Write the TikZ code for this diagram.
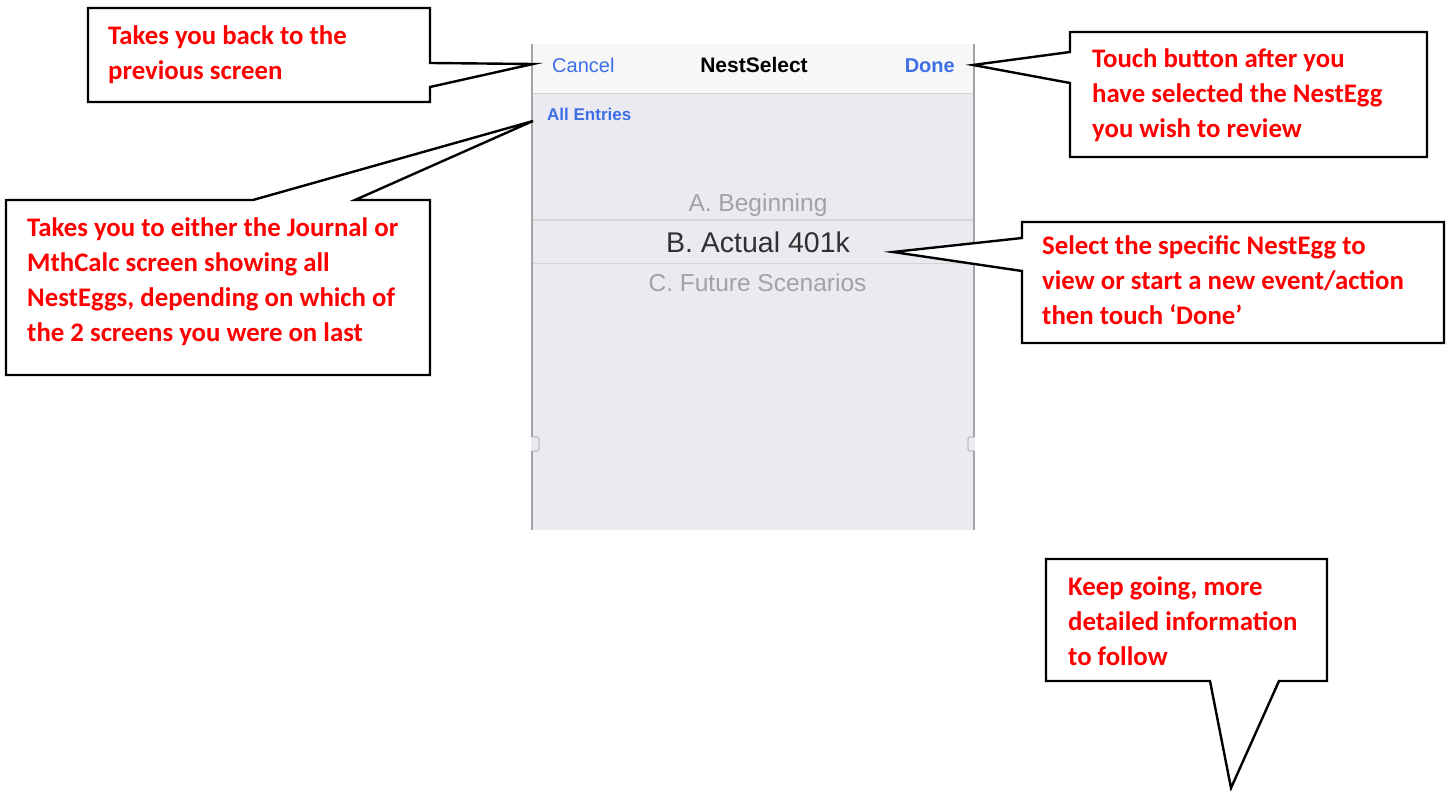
\documentclass[tikz,border=0pt]{standalone}
\usepackage{fontspec}
\setmainfont{Carlito}
\newfontfamily\uifont{Liberation Sans}
\definecolor{calred}{HTML}{FF0000}
\definecolor{navbg}{HTML}{F7F7F8}
\definecolor{bodybg}{HTML}{EBEAF0}
\definecolor{sepgray}{HTML}{D6D6DA}
\definecolor{framegray}{HTML}{A4A4A6}
\definecolor{iosblue}{HTML}{3C6EE6}
\definecolor{optgray}{HTML}{A2A2A6}
\definecolor{optdark}{HTML}{303030}
\newcommand\calltext[1]{\vtop{\baselineskip=35pt\halign{##\hfil\cr#1\crcr}}}
\begin{document}
\begin{tikzpicture}[x=1pt,y=-1pt,
  callout/.style={draw=black,line width=2.4pt,fill=white,line join=miter},
  ctext/.style={anchor=base west,inner sep=0pt,text=calred,font=\bfseries\fontsize{26.8}{35}\selectfont},
  ui/.style={inner sep=0pt,font=\uifont}]
\useasboundingbox (0,0) rectangle (1449,791);
% phone screenshot
\fill[navbg] (531,44) rectangle (975,93);
\fill[bodybg] (531,93) rectangle (975,530);
\draw[sepgray,line width=1.2pt] (532,93.5) -- (974,93.5);
\draw[sepgray,line width=1.2pt] (532,220) -- (974,220);
\draw[sepgray,line width=1.2pt] (532,263.5) -- (974,263.5);
\draw[framegray,line width=1.8pt] (532,44) -- (532,437) (532,451) -- (532,530);
\draw[framegray,line width=1.8pt] (974,44) -- (974,437) (974,451) -- (974,530);
\draw[framegray!70,line width=1.2pt,rounded corners=2pt] (532,437) -- (539,437) -- (539,451) -- (532,451);
\draw[framegray!70,line width=1.2pt,rounded corners=2pt] (974,437) -- (968,437) -- (968,451) -- (974,451);
\node[ui,anchor=base west,text=iosblue,font=\uifont\fontsize{20}{24}\selectfont] (cancel) at (552,73) {Cancel};
\node[ui,anchor=base,text=black,font=\uifont\bfseries\fontsize{21}{24}\selectfont] (title) at (754,73) {NestSelect};
\node[ui,anchor=base east,text=iosblue,font=\uifont\bfseries\fontsize{20}{24}\selectfont] (done) at (955,73) {Done};
\node[ui,anchor=base west,text=iosblue,font=\uifont\bfseries\fontsize{17}{20}\selectfont] (all) at (547,121) {All Entries};
\node[ui,anchor=base,text=optgray,font=\uifont\fontsize{24.5}{28}\selectfont] (optA) at (758,212) {A. Beginning};
\node[ui,anchor=base,text=optdark,font=\uifont\fontsize{28.5}{32}\selectfont] (optB) at (758,253) {B. Actual 401k};
\node[ui,anchor=base,text=optgray,font=\uifont\fontsize{24.5}{28}\selectfont] (optC) at (757.5,292) {C. Future Scenarios};
% pointer tips
\coordinate (tip1) at (533,64);
\coordinate (tip2) at (533,121);
\coordinate (tip3) at (973,65);
\coordinate (tip4) at (893,252);
\coordinate (tip5) at (1231,788);
% callouts
\draw[callout] (88,8) -- (430,8) -- (430,63) -- (tip1) -- (430,87) -- (430,102) -- (88,102) -- cycle;
\draw[callout] (6,200) -- (253,200) -- (tip2) -- (355,200) -- (430,200) -- (430,375) -- (6,375) -- cycle;
\draw[callout] (1070,32) -- (1427,32) -- (1427,157) -- (1070,157) -- (1070,83) -- (tip3) -- (1070,52) -- cycle;
\draw[callout] (1022,222) -- (1444,222) -- (1444,343) -- (1022,343) -- (1022,271) -- (tip4) -- (1022,238) -- cycle;
\draw[callout] (1046,559) -- (1327,559) -- (1327,681) -- (1279,681) -- (tip5) -- (1210,681) -- (1046,681) -- cycle;
\node[ctext] (t1) at (108,45) {\calltext{Takes you back to the\cr previous screen}};
\node[ctext] (t2) at (27,237) {\calltext{Takes you to either the Journal or\cr MthCalc screen showing all\cr NestEggs, depending on which of\cr the 2 screens you were on last}};
\node[ctext] (t3) at (1092,68) {\calltext{Touch button after you\cr have selected the NestEgg\cr you wish to review}};
\node[ctext] (t4) at (1042,255) {\calltext{Select the specific NestEgg to\cr view or start a new event/action\cr then touch ‘Done’}};
\node[ctext] (t5) at (1068,595) {\calltext{Keep going, more\cr detailed information\cr to follow}};
\end{tikzpicture}
\end{document}
